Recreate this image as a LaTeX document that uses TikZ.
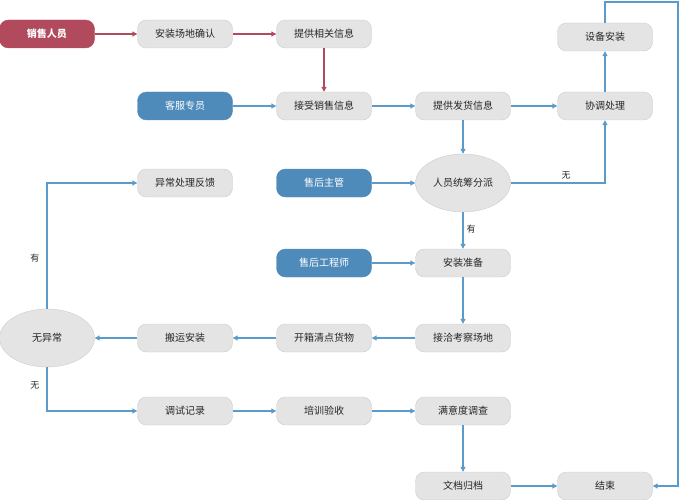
\documentclass[tikz,border=0pt]{standalone}
\usepackage{fontspec}
\setmainfont{Noto Sans CJK SC}
\usetikzlibrary{shapes.geometric,arrows.meta}
\definecolor{redc}{HTML}{B04A5C}
\definecolor{bluec}{HTML}{4F8BBA}
\definecolor{boxg}{HTML}{E4E4E4}
\definecolor{lineb}{HTML}{5B9BCB}
\begin{document}
\begin{tikzpicture}[x=1pt,y=-1pt,
 every node/.style={font=\fontsize{10}{12}\selectfont},
 box/.style={rounded corners=9pt,minimum width=95pt,minimum height=28pt,fill=boxg,draw=gray!40,text=black!85},
 rbox/.style={box,fill=redc,draw=redc,text=white,font=\fontsize{10}{12}\selectfont\bfseries},
 bbox/.style={box,fill=bluec,draw=bluec,text=white},
 ell/.style={ellipse,minimum width=95pt,minimum height=58pt,fill=boxg,draw=gray!40,text=black!85},
 ra/.style={draw=redc,line width=1.1pt,-{Triangle[length=5pt,width=5pt]}},
 ba/.style={draw=lineb,line width=1.1pt,-{Triangle[length=5pt,width=5pt]}},
 lab/.style={font=\fontsize{9}{11}\selectfont,text=black!85}]
\useasboundingbox (0,0) rectangle (680,500);
\node[rbox] (s) at (47,34) {销售人员};
\node[box] (a1) at (185,34) {安装场地确认};
\node[box] (a2) at (324,34) {提供相关信息};
\node[box] (sb) at (605,37) {设备安装};
\node[bbox] (kf) at (185,106) {客服专员};
\node[box] (js) at (324,106) {接受销售信息};
\node[box] (fh) at (463,106) {提供发货信息};
\node[box] (xt) at (605,106) {协调处理};
\node[box] (yc) at (185,183) {异常处理反馈};
\node[bbox] (zg) at (324,183) {售后主管};
\node[ell] (ry) at (463,183) {人员统筹分派};
\node[bbox] (gc) at (324,263) {售后工程师};
\node[box] (zb) at (463,263) {安装准备};
\node[ell] (wy) at (47,338) {无异常};
\node[box] (by) at (185,338) {搬运安装};
\node[box] (kx) at (324,338) {开箱清点货物};
\node[box] (jq) at (463,338) {接洽考察场地};
\node[box] (ts) at (185,411) {调试记录};
\node[box] (px) at (324,411) {培训验收};
\node[box] (my) at (463,411) {满意度调查};
\node[box] (wd) at (463,486) {文档归档};
\node[box] (js2) at (605,486) {结束};
\draw[ra] (s) -- (a1);
\draw[ra] (a1) -- (a2);
\draw[ra] (a2) -- (js);
\draw[ba] (kf) -- (js);
\draw[ba] (js) -- (fh);
\draw[ba] (fh) -- (xt);
\draw[ba] (xt) -- (sb);
\draw[ba] (sb.north) |- (678,2) -- (678,486) -- (js2.east);
\draw[ba] (fh) -- (ry);
\draw[ba] (ry.east) -- (605,183) -- (xt.south);
\node[lab] (l1) at (566,175) {无};
\draw[ba] (zg) -- (ry);
\draw[ba] (ry) -- (zb);
\node[lab] (l2) at (471,229) {有};
\draw[ba] (gc) -- (zb);
\draw[ba] (zb) -- (jq);
\draw[ba] (jq) -- (kx);
\draw[ba] (kx) -- (by);
\draw[ba] (by) -- (wy);
\draw[ba] (wy.north) |- (yc.west);
\node[lab] (l3) at (35,258) {有};
\draw[ba] (wy.south) |- (ts.west);
\node[lab] (l4) at (35,385) {无};
\draw[ba] (ts) -- (px);
\draw[ba] (px) -- (my);
\draw[ba] (my) -- (wd);
\draw[ba] (wd) -- (js2);
\end{tikzpicture}
\end{document}
